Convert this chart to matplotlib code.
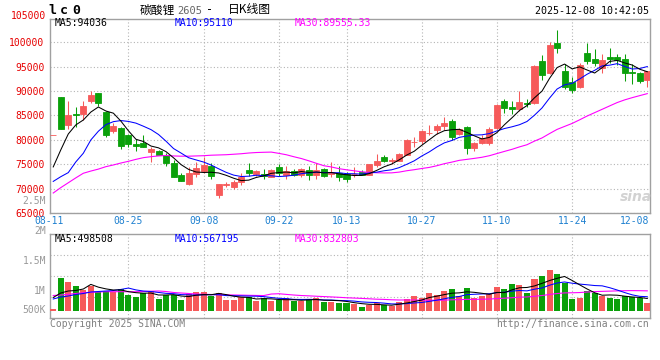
import matplotlib
matplotlib.use('Agg')
import matplotlib.pyplot as plt
import matplotlib.transforms as mtransforms
import numpy as np

# ---- data ----
date_labels = ['08-11', '08-25', '09-08', '09-22', '10-13', '10-27', '11-10', '11-24', '12-08']
date_index = [0, 10, 20, 30, 39, 49, 59, 69, 79]

opens = [81000, 88700, 83000, 85300, 85300, 87970, 89670, 85800, 81900, 82500,
         81070, 79230, 79300, 77520, 77790, 76900, 75200, 72800, 70960, 73000,
         73700, 74650, 68700, 70800, 70400, 71440, 73830, 72960, 73040, 72460,
         74510, 72810, 73630, 72810, 73830, 72810, 73970, 73080, 73150, 72960,
         72900, 73490, 72810, 74860, 76560, 75600, 75740, 76910, 79500, 79840,
         81400, 82030, 82850, 83940, 81150, 82580, 78280, 79300, 79300, 82500,
         88030, 86680, 86330, 87500, 87620, 96170, 93770, 99930, 94120, 91930,
         90900, 97870, 96580, 94800, 96930, 97050, 96520, 93970, 93650, 92280]
highs = [81050, 88800, 87970, 86680, 87970, 90020, 89700, 85900, 83500, 82700,
         81300, 80190, 81000, 78600, 78000, 77300, 75900, 73200, 74500, 75530,
         76560, 75320, 71000, 71440, 71700, 73100, 75300, 73800, 74000, 74000,
         75040, 74650, 74000, 74300, 74650, 75300, 74300, 75500, 74650, 73400,
         74510, 73800, 75100, 77000, 76900, 76300, 77400, 80100, 80640, 82000,
         83000, 83200, 84750, 84340, 82400, 82800, 79600, 80900, 82600, 87300,
         88400, 88030, 89960, 88300, 95300, 97500, 100120, 102520, 95500, 92900,
         95700, 99930, 98560, 97600, 98800, 97700, 97600, 95600, 94000, 94200]
lows = [80950, 82200, 82300, 82700, 84080, 87500, 86950, 80600, 81500, 78080,
        78500, 77670, 78500, 75530, 76800, 74600, 72300, 71500, 70700, 72460,
        73150, 72000, 68000, 70300, 70000, 70800, 72600, 72600, 71870, 72300,
        72600, 71970, 72500, 72300, 71800, 72000, 72300, 72460, 71600, 71300,
        72460, 72700, 72700, 74500, 75500, 75000, 75600, 76800, 78520, 79200,
        81000, 81300, 82030, 79980, 81000, 77200, 77800, 79100, 78900, 82300,
        85600, 85200, 85900, 86700, 87400, 92300, 93500, 97750, 90500, 89700,
        90700, 95550, 95140, 93700, 95800, 95400, 92000, 91400, 91700, 90900]
closes = [81000, 82300, 85000, 85100, 86950, 89140, 87500, 80900, 82850, 78800,
          79230, 78810, 78600, 78200, 76970, 75330, 72460, 71640, 73300, 74300,
          74860, 72670, 70900, 70900, 71300, 72460, 73150, 73630, 72600, 73830,
          73280, 73630, 72810, 73970, 72810, 73830, 72670, 73280, 72460, 71990,
          73030, 72810, 75060, 75740, 75740, 75800, 77110, 79980, 79650, 81830,
          81500, 82850, 83530, 80660, 82240, 78400, 79300, 80330, 82240, 87150,
          86470, 86400, 87830, 87290, 95140, 93300, 99450, 98900, 90900, 90220,
          95350, 96230, 95820, 96370, 96640, 96370, 93650, 93650, 92070, 94120]
volumes = [80000, 1320000, 1160000, 1000000, 840000, 1000000, 772000, 812000, 772000, 868000,
           640000, 572000, 708000, 800000, 480000, 640000, 640000, 440000, 680000, 760000,
           760000, 612000, 708000, 440000, 440000, 572000, 548000, 400000, 508000, 400000,
           440000, 508000, 400000, 400000, 480000, 508000, 372000, 372000, 332000, 332000,
           268000, 172000, 240000, 308000, 240000, 200000, 372000, 480000, 600000, 532000,
           708000, 640000, 800000, 880000, 600000, 920000, 532000, 612000, 680000, 972000,
           880000, 1080000, 1040000, 732000, 1280000, 1400000, 1640000, 1480000, 1108000, 480000,
           532000, 800000, 732000, 612000, 532000, 480000, 612000, 572000, 508000, 332000]

# moving averages before their window is complete (history lies left of the chart)
ma5_head = [74450, 77930, 81200, 83060]
ma10_head = [71480, 72440, 73280, 75470, 77250, 79980, 81760, 83120, 83730]
ma30_head = [69100, 70200, 71200, 72200, 73150, 73600, 74000, 74500, 74850, 75250,
             75600, 76000, 76350, 76550, 76700, 76800, 76700, 76650, 76650, 76700,
             76750, 76850, 76900, 76950, 77050, 77150, 77300, 77400, 77450]
vma5_head = [540000, 720000, 800000, 820000]
vma10_head = [480000, 560000, 600000, 660000, 700000, 760000, 780000, 800000, 820000]
vma30_head = [620000, 640000, 668000, 700000, 732000, 748000, 760000, 772000, 772000, 772000,
              772000, 772000, 780000, 792000, 800000, 780000, 740000, 720000, 700000, 680000,
              668000, 660000, 652000, 650000, 640000, 635000, 628000, 622000, 618000]

price_legend = ['MA5:94036', 'MA10:95110', 'MA30:89555.33']
volume_legend = ['MA5:498508', 'MA10:567195', 'MA30:832803']
price_ticks = [65000, 70000, 75000, 80000, 85000, 90000, 95000, 100000]


def moving_average(values, n, head):
    values = np.asarray(values, dtype=float)
    tail = [values[i - n + 1:i + 1].mean() for i in range(n - 1, len(values))]
    return np.array(list(head) + tail)


W, H = 660, 360
RED = '#F65A5A'
GREEN = '#0AA00A'
MONO = 'DejaVu Sans Mono'

fig = plt.figure(figsize=(6.6, 3.6), dpi=100)


def fx(px):
    return px / W


def fy(py):
    return 1 - py / H


ax = fig.add_axes([fx(50), fy(213), 600 / W, 194 / H])
axv = fig.add_axes([fx(50), fy(318), 600 / W, 84 / H])

x = np.arange(len(closes))
o = np.array(opens)
c = np.array(closes)
up = c >= o
colors = [RED if u else GREEN for u in up]

# candles
ax.vlines(x, lows, highs, colors=colors, lw=0.75, zorder=3)
ax.bar(x, np.abs(c - o), bottom=np.minimum(o, c), width=0.8, color=colors,
       edgecolor=colors, linewidth=0.6, zorder=4)

ax.plot(x, moving_average(closes, 30, ma30_head), color='#FF00FF', lw=0.8, zorder=5)
ax.plot(x, moving_average(closes, 10, ma10_head), color='#0000FF', lw=0.75, zorder=5)
ax.plot(x, moving_average(closes, 5, ma5_head), color='black', lw=0.75, zorder=5)

ax.set_xlim(-0.43, 79.36)
ax.set_ylim(65000, 104780)
ax.set_yticks(price_ticks)
ax.set_yticklabels([str(t) for t in price_ticks], color='#E60000', fontsize=7, family=MONO)
grid_idx = date_index[1:-1]
ax.set_xticks(grid_idx)
ax.set_xticklabels([])
ax.tick_params(length=0, pad=4)
ax.grid(True, color='#B4B4B4', linestyle=(0, (1, 2)), lw=0.8)
ax.set_axisbelow(True)

# volume
axv.bar(x, volumes, width=0.8, color=colors, zorder=3)
axv.plot(x, moving_average(volumes, 30, vma30_head), color='#FF00FF', lw=0.8, zorder=5)
axv.plot(x, moving_average(volumes, 10, vma10_head), color='#0000FF', lw=0.75, zorder=5)
axv.plot(x, moving_average(volumes, 5, vma5_head), color='black', lw=0.75, zorder=5)
axv.set_xlim(-0.43, 79.36)
vlim = (-280000, 3080000)
axv.set_ylim(vlim)
axv.set_yticks(np.linspace(vlim[0], vlim[1], 5)[1:-1])
axv.set_yticklabels([])
axv.set_xticks(grid_idx)
axv.set_xticklabels([])
axv.tick_params(length=0)
axv.grid(True, color='#B4B4B4', linestyle=(0, (1, 2)), lw=0.8)
axv.set_axisbelow(True)

for a in (ax, axv):
    for s in a.spines.values():
        s.set_color('#A0A0A0')
        s.set_linewidth(1.0)

# date labels under the price panel
trans = mtransforms.blended_transform_factory(ax.transData, fig.transFigure)
for i, (lab, idx) in enumerate(zip(date_labels, date_index)):
    if i == 0:
        fig.text(fx(49), fy(221.5), lab, ha='center', va='center', color='#1E80D0',
                 fontsize=7, family=MONO)
    elif i == len(date_labels) - 1:
        fig.text(fx(649), fy(221.5), lab, ha='right', va='center', color='#1E80D0',
                 fontsize=7, family=MONO)
    else:
        fig.text(idx, fy(221.5), lab, ha='center', va='center', color='#1E80D0',
                 fontsize=7, family=MONO, transform=trans)

# axis labels that sit outside the scales
fig.text(fx(46), fy(16), '105000', ha='right', va='center', color='#E60000', fontsize=7, family=MONO)
fig.text(fx(46), fy(200.5), '2.5M', ha='right', va='center', color='#999999', fontsize=7, family=MONO)
for lab, py in zip(['2M', '1.5M', '1M', '500K'], [230.7, 260.7, 290.7, 310]):
    fig.text(fx(46), fy(py), lab, ha='right', va='center', color='#999999', fontsize=7, family=MONO)

# header
for ch, px in zip('lc0', [52, 64, 76]):
    fig.text(fx(px), fy(10.5), ch, ha='center', va='center', fontsize=9.5, weight='bold',
             family=MONO, color='black')
fig.text(fx(140), fy(10), '碳酸锂', ha='left', va='center', fontsize=8.5,
         family=['Noto Sans CJK SC', 'DejaVu Sans'])
fig.text(fx(177), fy(10.5), '2605', ha='left', va='center', fontsize=7.5, color='#666666',
         family=MONO)
fig.text(fx(210), fy(10), '-', ha='center', va='center', fontsize=8.5, family=MONO)
fig.text(fx(228), fy(10), '日K线图', ha='left', va='center', fontsize=8.5,
         family=['Noto Sans CJK SC', 'DejaVu Sans'])
fig.text(fx(649), fy(11), '2025-12-08 10:42:05', ha='right', va='center', fontsize=7.2,
         family=MONO, color='black')

# legends
for lab, px, col in zip(price_legend, [55, 175, 295], ['black', '#0000FF', '#FF00FF']):
    fig.text(fx(px), fy(23.5), lab, ha='left', va='center', fontsize=7, family=MONO, color=col)
for lab, px, col in zip(volume_legend, [55, 175, 295], ['black', '#0000FF', '#FF00FF']):
    fig.text(fx(px), fy(238.5), lab, ha='left', va='center', fontsize=7, family=MONO, color=col)

# footer and watermark
fig.text(fx(50), fy(324), 'Copyright 2025 SINA.COM', ha='left', va='center', fontsize=7,
         family=MONO, color='#808080')
fig.text(fx(649), fy(324), 'http://finance.sina.com.cn', ha='right', va='center', fontsize=7,
         family=MONO, color='#808080')
fig.text(fx(636), fy(197), 'sina', ha='center', va='center', fontsize=10, style='italic',
         weight='bold', color='#D2D2D2')

fig.savefig('out.png', dpi=100)
